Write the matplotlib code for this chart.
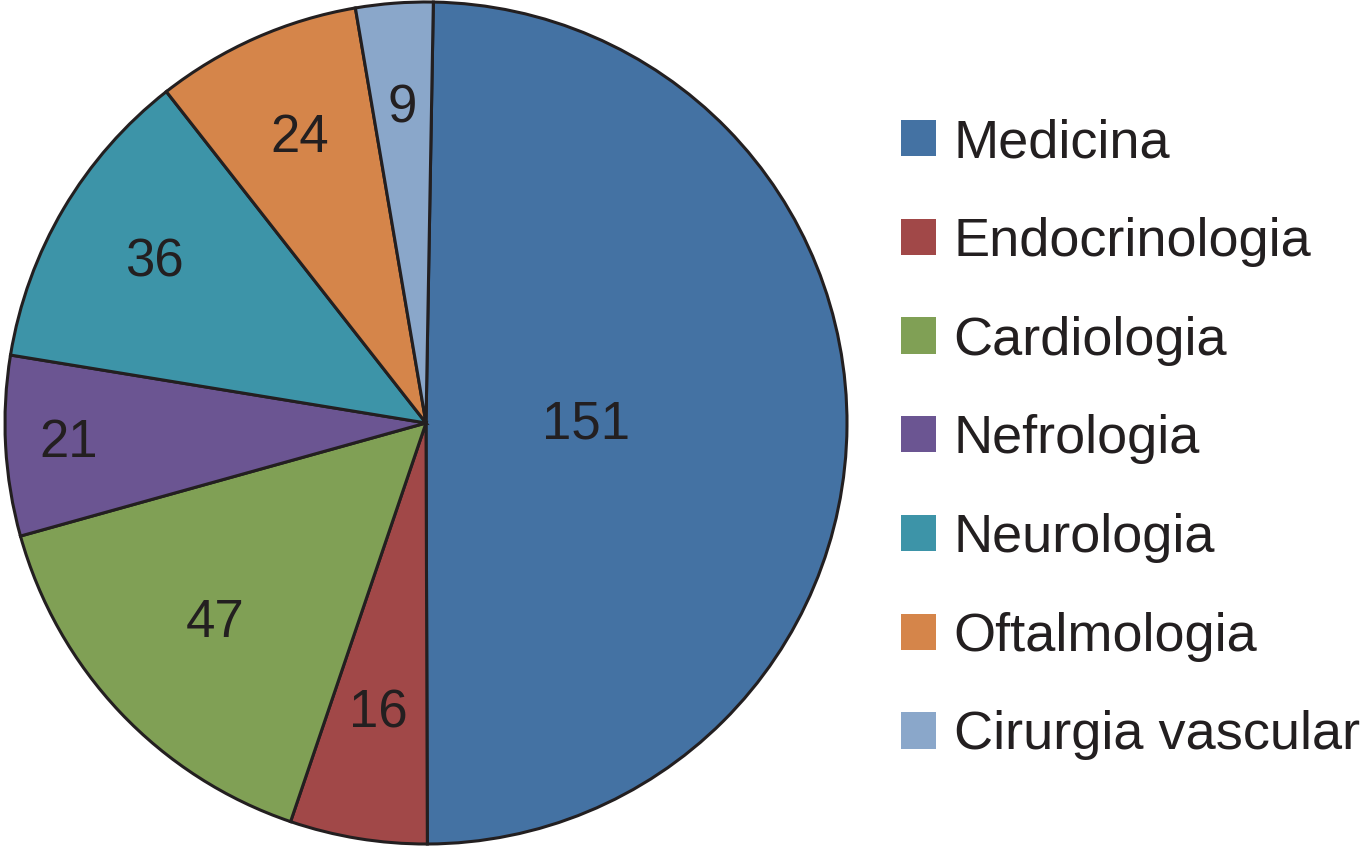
import matplotlib.pyplot as plt
from matplotlib.patches import Patch
import numpy as np

plt.rcParams['font.family'] = ['Liberation Sans', 'DejaVu Sans']

# dados
categorias = ['Medicina', 'Endocrinologia', 'Cardiologia', 'Nefrologia',
              'Neurologia', 'Oftalmologia', 'Cirurgia vascular']
valores = [151, 16, 47, 21, 36, 24, 9]
cores = ['#4472a3', '#a14848', '#80a055', '#6b5592',
         '#3d94a8', '#d5854a', '#8aa7ca']
# distancia radial de cada rotulo (fracao do raio)
dist_rotulo = [0.38, 0.70, 0.69, 0.85, 0.75, 0.74, 0.75]

texto_cor = '#231f20'

fig = plt.figure(figsize=(13.71, 8.47), dpi=100)
W, H = 1371, 847
cx, cy, r = 426, 423, 421
ax = fig.add_axes([(cx - r) / W, (H - cy - r) / H, 2 * r / W, 2 * r / H])

wedges, _ = ax.pie(valores, colors=cores, startangle=89, counterclock=False,
                   radius=1.0,
                   wedgeprops=dict(edgecolor=texto_cor, linewidth=2.2))
ax.set_xlim(-1, 1)
ax.set_ylim(-1, 1)
ax.set_aspect('equal')
ax.axis('off')

for w, v, d in zip(wedges, valores, dist_rotulo):
    ang = np.deg2rad((w.theta1 + w.theta2) / 2)
    ax.text(d * np.cos(ang), d * np.sin(ang), str(v), ha='center', va='center',
            fontsize=38, color=texto_cor)

handles = [Patch(facecolor=c, edgecolor='none') for c in cores]
fig.legend(handles, categorias, loc='upper left',
           bbox_to_anchor=(901 / W, 1 - 118 / H), frameon=False,
           fontsize=39, handlelength=0.65, handleheight=0.65,
           handletextpad=0.32, labelspacing=0.9, borderaxespad=0,
           borderpad=0, labelcolor=texto_cor)

fig.savefig('out.png', dpi=100)
